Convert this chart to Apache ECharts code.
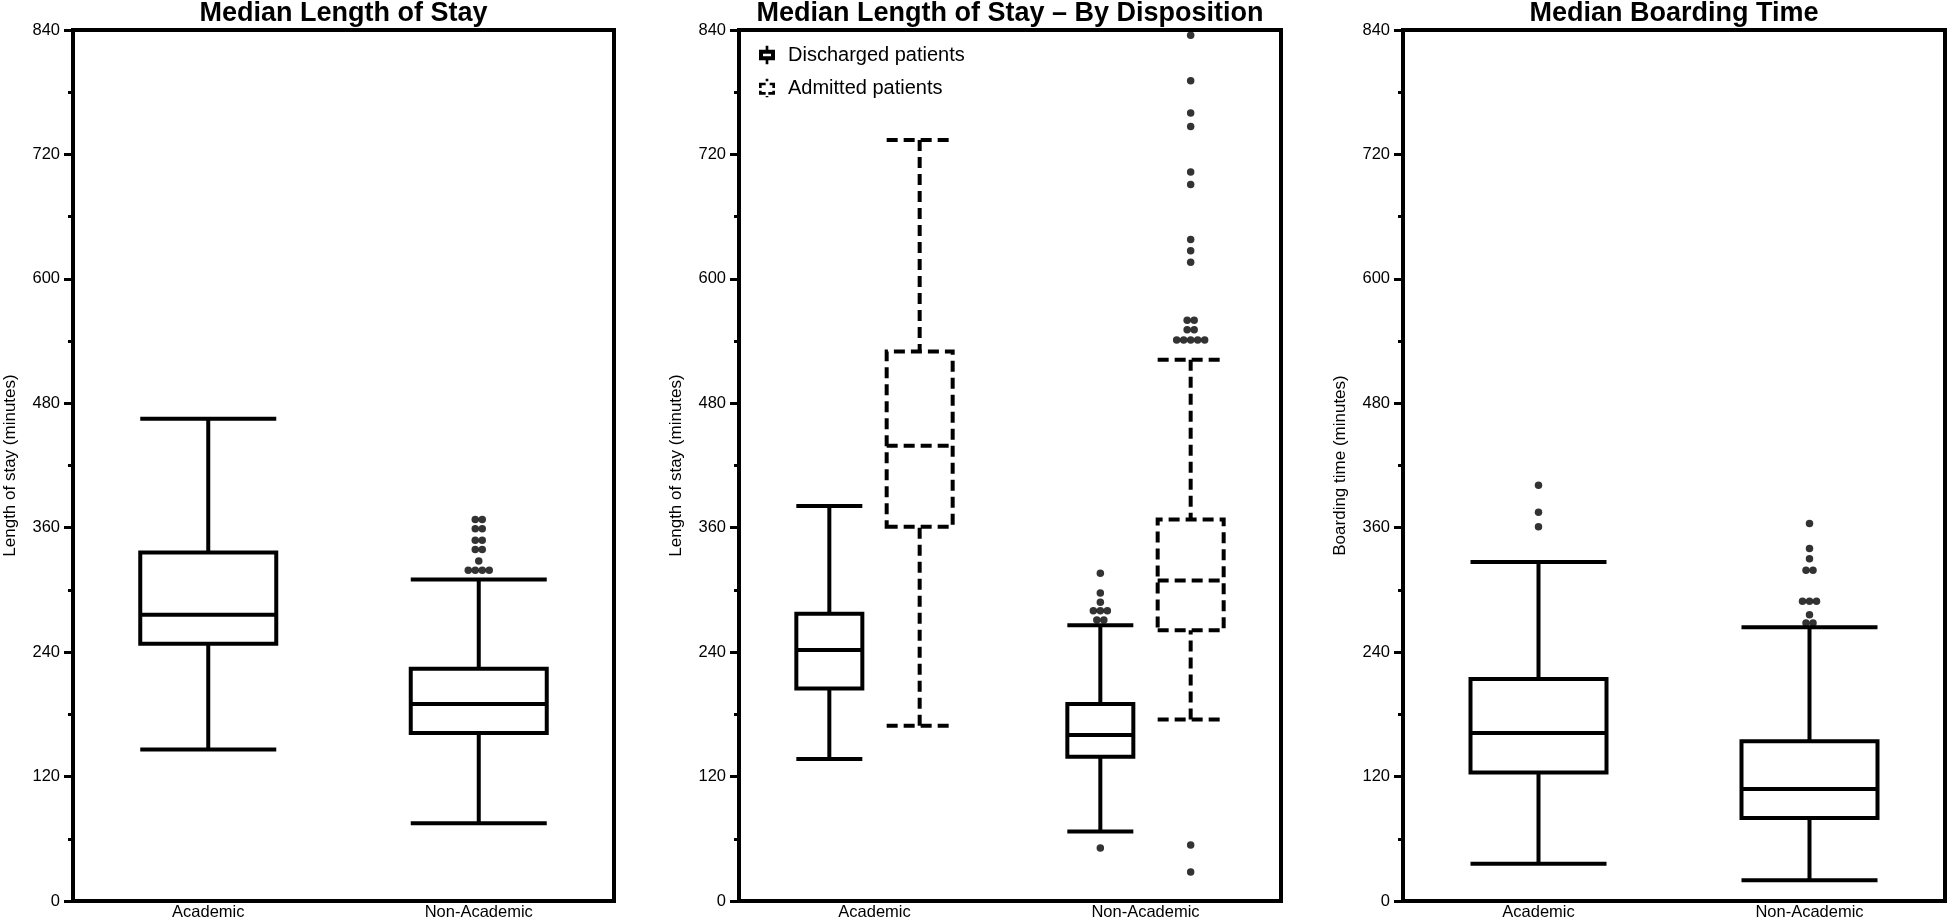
<!DOCTYPE html>
<html><head><meta charset="utf-8">
<script src="https://cdn.jsdelivr.net/npm/echarts@6/dist/echarts.min.js"></script>
<style>html,body{margin:0;padding:0;background:#fff}#c{width:1948px;height:918px}</style>
</head><body><div id="c"></div>
<script>
// ---------------- data ----------------
const categories = ['Academic', 'Non-Academic'];
const titles = ['Median Length of Stay', 'Median Length of Stay \u2013 By Disposition', 'Median Boarding Time'];
const yNames = ['Length of stay (minutes)', 'Length of stay (minutes)', 'Boarding time (minutes)'];
const seriesNames = ['Discharged patients', 'Admitted patients'];
const yMin = 0, yMax = 840, yStep = 120;

// [min, Q1, median, Q3, max] per category
const losAll = [[146, 248, 276, 336, 465], [75, 162, 190, 224, 310]];
const losAllOutliers = [[], [368, 368, 359, 359, 348, 348, 339, 339, 328, 319, 319, 319, 319]];

const losDischarged = [[137, 205, 242, 277, 381], [67, 139, 160, 190, 266]];
const losDischargedOutliers = [[], [316, 297, 288, 280, 280, 280, 271, 271, 51]];

const losAdmitted = [[169, 361, 439, 530, 734], [175, 261, 309, 368, 522]];
const losAdmittedOutliers = [[], [835, 791, 760, 747, 703, 691, 638, 627, 616, 560, 560, 551, 551, 541, 541, 541, 541, 541, 54, 28]];

const boarding = [[36, 124, 162, 214, 327], [20, 80, 108, 154, 264]];
const boardingOutliers = [[401, 375, 361], [364, 340, 330, 319, 319, 289, 289, 289, 276, 268, 268]];

// ---------------- layout / style ----------------
const FONT = '"Liberation Sans", Arial, Helvetica, sans-serif';
const GRID_TOP = 30, GRID_H = 871;
const gridLefts = [73, 739, 1403];
const gridWidths = [541, 542, 542];
const DOT_GAP = 7;   // px between duplicated outlier dots
const LW = 4;

function spread(values, center, pxPerUnit) {
  const counts = {}, seen = {};
  values.forEach(v => counts[v] = (counts[v] || 0) + 1);
  return values.map(v => {
    const n = counts[v]; const k = seen[v] = (seen[v] === undefined ? 0 : seen[v] + 1);
    return [center + (k - (n - 1) / 2) * DOT_GAP / pxPerUnit, v];
  });
}

const grids = gridLefts.map((l, i) => ({
  left: l, top: GRID_TOP, width: gridWidths[i], height: GRID_H,
  show: true, borderColor: '#000', borderWidth: LW, backgroundColor: 'transparent',
  containLabel: false, outerBoundsMode: 'none'
}));

function catAxis(g) {
  return {
    type: 'category', gridIndex: g, data: categories, boundaryGap: true,
    axisLine: { show: true, lineStyle: { color: '#000', width: LW } },
    axisTick: { show: false },
    axisLabel: { color: '#000', fontSize: 16.5, fontFamily: FONT, margin: 3 },
    splitLine: { show: false }
  };
}
function hidAxis(g, max) {
  return { type: 'value', gridIndex: g, min: 0, max: max, show: false, splitLine: { show: false } };
}
const xAxes = [
  catAxis(0), hidAxis(0, 2),
  catAxis(1), hidAxis(1, 6), hidAxis(1, 6),
  catAxis(2), hidAxis(2, 2)
];
const yAxes = [0, 1, 2].map(g => ({
  type: 'value', gridIndex: g, min: yMin, max: yMax, interval: yStep,
  name: yNames[g], nameLocation: 'middle', nameGap: 54,
  nameTextStyle: { color: '#000', fontSize: 17, fontFamily: FONT },
  axisLine: { show: true, lineStyle: { color: '#000', width: LW } },
  axisTick: { show: true, length: 9, lineStyle: { color: '#000', width: 3 } },
  minorTick: { show: true, splitNumber: 2, length: 5, lineStyle: { color: '#000', width: 3 } },
  splitLine: { show: false },
  axisLabel: { color: '#000', fontSize: 16.5, fontFamily: FONT, margin: 13 }
}));

function boxSeries(name, data, positions, xi, yi, width, dashed) {
  return {
    type: 'boxplot', name: name, xAxisIndex: xi, yAxisIndex: yi,
    data: data.map((d, i) => [positions[i]].concat(d)),
    boxWidth: [width, width],
    itemStyle: { color: '#fff', borderColor: '#000', borderWidth: LW, borderType: dashed ? [11, 6] : 'solid' },
    emphasis: { disabled: true }, silent: true, z: 2
  };
}
function dotSeries(outliers, positions, xi, yi, pxPerUnit) {
  let pts = [];
  outliers.forEach((vals, i) => { pts = pts.concat(spread(vals, positions[i], pxPerUnit)); });
  return {
    type: 'scatter', xAxisIndex: xi, yAxisIndex: yi, data: pts,
    symbol: 'circle', symbolSize: 7.5, itemStyle: { color: '#000' }, silent: true, z: 5
  };
}

const pos2 = [0.5, 1.5];
const posDis = [1, 4], posAdm = [2, 5];
const ppu0 = gridWidths[0] / 2, ppu1 = gridWidths[1] / 6, ppu2 = gridWidths[2] / 2;
const BOX_W = 136, BOX_W_MID = 66;

const series = [
  boxSeries('all', losAll, pos2, 1, 0, BOX_W, false),
  dotSeries(losAllOutliers, pos2, 1, 0, ppu0),
  boxSeries(seriesNames[0], losDischarged, posDis, 3, 1, BOX_W_MID, false),
  dotSeries(losDischargedOutliers, posDis, 3, 1, ppu1),
  boxSeries(seriesNames[1], losAdmitted, posAdm, 4, 1, BOX_W_MID, true),
  dotSeries(losAdmittedOutliers, posAdm, 4, 1, ppu1),
  boxSeries('boarding', boarding, pos2, 6, 2, BOX_W, false),
  dotSeries(boardingOutliers, pos2, 6, 2, ppu2)
];

const iconSolid = 'path://M0,3 L12,3 L12,11 L0,11 Z M3,6 L3,8 L9,8 L9,6 Z M5,0 L7,0 L7,3 L5,3 Z M5,11 L7,11 L7,14 L5,14 Z';
const iconDashed = 'path://M5,0 L7,0 L7,2 L5,2 Z M0,3 L5,3 L5,5 L2,5 L2,7 L0,7 Z M8,3 L12,3 L12,7 L10,7 L10,5 L8,5 Z M0,9 L2,9 L2,10 L5,10 L5,12 L0,12 Z M10,9 L12,9 L12,12 L7,12 L7,10 L10,10 Z M5,13 L7,13 L7,14 L5,14 Z';

const option = {
  animation: false,
  backgroundColor: '#fff',
  title: titles.map((t, i) => ({
    text: t, left: gridLefts[i] + gridWidths[i] / 2, top: 0, textAlign: 'center', padding: 0,
    textStyle: { color: '#000', fontSize: 27, fontWeight: 'bold', fontFamily: FONT }
  })),
  legend: {
    data: [{ name: seriesNames[0], icon: iconSolid }, { name: seriesNames[1], icon: iconDashed }],
    orient: 'vertical', left: 759, top: 45, padding: 0, itemGap: 13,
    itemWidth: 16, itemHeight: 20, selectedMode: false,
    itemStyle: { color: '#000', borderWidth: 0 },
    textStyle: { color: '#000', fontSize: 20, fontFamily: FONT, padding: [0, 0, 0, 8] }
  },
  grid: grids,
  xAxis: xAxes,
  yAxis: yAxes,
  series: series
};
const chart = echarts.init(document.getElementById('c'), null, { renderer: 'canvas' });
chart.setOption(option);
</script>
</body></html>
